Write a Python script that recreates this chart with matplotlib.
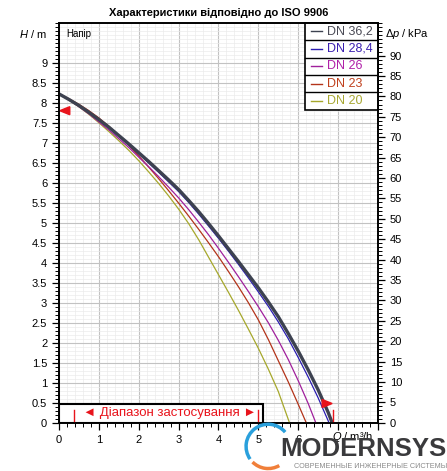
import numpy as np
import matplotlib
matplotlib.use("Agg")
import matplotlib.pyplot as plt
from matplotlib.patches import Rectangle, Polygon, Arc
from matplotlib.ticker import MultipleLocator

plt.rcParams['font.family'] = ['Liberation Sans', 'DejaVu Sans']
plt.rcParams['mathtext.fontset'] = 'custom'
plt.rcParams['mathtext.rm'] = 'Liberation Sans'
plt.rcParams['mathtext.it'] = 'Liberation Sans:italic'

# pump curves: Q in m3/h, H in m
q_step = [0, 0.25, 0.5, 0.75, 1, 1.25, 1.5, 1.75, 2, 2.25, 2.5, 2.75, 3, 3.25, 3.5, 3.75,
          4, 4.25, 4.5, 4.75, 5, 5.25, 5.5, 5.75, 6, 6.25, 6.5, 6.75]
q_36 = q_step + [6.85]
h_36 = [8.22, 8.08, 7.93, 7.76, 7.58, 7.39, 7.18, 6.97, 6.75, 6.53, 6.30, 6.07, 5.83, 5.56,
        5.28, 4.98, 4.67, 4.35, 4.03, 3.70, 3.37, 3.02, 2.65, 2.23, 1.79, 1.32, 0.82, 0.26, 0.0]
q_28 = q_step + [6.77]
h_28 = [8.22, 8.08, 7.92, 7.75, 7.56, 7.37, 7.16, 6.94, 6.72, 6.49, 6.26, 6.02, 5.78, 5.51,
        5.22, 4.92, 4.61, 4.29, 3.96, 3.62, 3.27, 2.91, 2.52, 2.10, 1.63, 1.14, 0.62, 0.05, 0.0]
q_26 = q_step[:26] + [6.44]
h_26 = [8.22, 8.07, 7.90, 7.72, 7.52, 7.32, 7.10, 6.88, 6.64, 6.40, 6.15, 5.89, 5.62, 5.33,
        5.02, 4.70, 4.36, 4.01, 3.65, 3.28, 2.90, 2.50, 2.06, 1.58, 1.05, 0.48, 0.0]
q_23 = q_step[:25] + [6.2]
h_23 = [8.22, 8.10, 7.96, 7.80, 7.62, 7.41, 7.18, 6.93, 6.67, 6.39, 6.10, 5.80, 5.49, 5.17,
        4.84, 4.50, 4.15, 3.78, 3.40, 3.00, 2.57, 2.08, 1.55, 1.02, 0.46, 0.0]
q_20 = q_step[:23] + [5.78]
h_20 = [8.22, 8.07, 7.90, 7.71, 7.50, 7.28, 7.05, 6.81, 6.55, 6.27, 5.98, 5.67, 5.34, 4.98,
        4.58, 4.14, 3.70, 3.26, 2.81, 2.34, 1.86, 1.34, 0.78, 0.0]

names = ['DN 36,2', 'DN 28,4', 'DN 26', 'DN 23', 'DN 20']
colors = ['#3d4250', '#2a1cb0', '#a0209c', '#b3341a', '#a6a82c']
text_colors = ['#4a4a55', '#3a1fb0', '#b020a8', '#c0401c', '#a8a832']
widths = [2.4, 0.9, 0.9, 0.9, 0.9]
curves = [(q_36, h_36), (q_28, h_28), (q_26, h_26), (q_23, h_23), (q_20, h_20)]

range_q = [0.37, 5.0]      # application range markers
range_box_q = 5.11
range_box_h = 0.47
h_mark = 7.8               # left red marker
q_mark = 6.87              # right red marker

fig = plt.figure(figsize=(4.47, 4.71), dpi=100)
ax = fig.add_axes([0.132, 0.1025, 0.7136, 0.8493])
ax.set_xlim(0, 8)
ax.set_ylim(0, 10)

ax.xaxis.set_major_locator(MultipleLocator(1))
ax.xaxis.set_minor_locator(MultipleLocator(0.2))
ax.yaxis.set_major_locator(MultipleLocator(0.5))
ax.yaxis.set_minor_locator(MultipleLocator(0.1))
ax.grid(which='major', color='#c2c2c2', lw=0.8)
ax.grid(which='minor', color='#ebebeb', lw=0.5)
ax.set_axisbelow(True)
ax.tick_params(which='major', direction='out', length=5, width=0.9, labelsize=8, colors='black')
ax.tick_params(which='minor', direction='out', length=3, width=0.7)
ax.set_xticks(range(9))
ax.set_xticklabels(['0', '1', '2', '3', '4', '5', '6', '', ''])
ax.set_yticks(np.arange(0, 9.01, 0.5))
ax.set_yticklabels(['0', '0.5', '1', '1.5', '2', '2.5', '3', '3.5', '4', '4.5',
                    '5', '5.5', '6', '6.5', '7', '7.5', '8', '8.5', '9'])
for s in ax.spines.values():
    s.set_linewidth(1.2)

for (q, h), c, w in zip(curves[::-1], colors[::-1], widths[::-1]):
    ax.plot(q, h, color=c, lw=w, zorder=3, solid_joinstyle='round')

# right axis in kPa
ax2 = ax.twinx()
ax2.set_ylim(0, 10 * 9.80665)
ax2.yaxis.set_minor_locator(MultipleLocator(1))
ax2.set_yticks(np.arange(0, 91, 5))
ax2.tick_params(which='major', direction='out', length=5, width=0.9, labelsize=8)
ax2.tick_params(which='minor', direction='out', length=3, width=0.7)
for s in ax2.spines.values():
    s.set_linewidth(1.2)

# axis labels
fig.text(0.105, 0.928, '$H$ / m', ha='right', va='center', fontsize=8)
fig.text(0.862, 0.928, r'$\Delta p$ / kPa', ha='left', va='center', fontsize=8)
fig.text(0.835, 0.073, '$Q$ / m³/h', ha='right', va='center', fontsize=8)
ax.text(0.022, 0.985, 'Напір', transform=ax.transAxes, ha='left', va='top', fontsize=7)
fig.text(0.49, 0.973, 'Характеристики відповідно до ISO 9906', ha='center', va='center',
         fontsize=8, fontweight='bold')

# legend drawn as stacked boxes
lx0, lx1 = 0.771, 1.0
row_h = 0.0435
ax.add_patch(Rectangle((lx0, 1 - 5 * row_h), lx1 - lx0, 5 * row_h, transform=ax.transAxes,
                       facecolor='white', edgecolor='black', lw=1.2, zorder=6, clip_on=False))
for i, (n, c, tc) in enumerate(zip(names, colors, text_colors)):
    yc = 1 - (i + 0.5) * row_h
    if i > 0:
        ax.plot([lx0, lx1], [1 - i * row_h] * 2, transform=ax.transAxes, color='black', lw=1.0, zorder=7)
    ax.plot([lx0 + 0.018, lx0 + 0.055], [yc, yc], transform=ax.transAxes, color=c, lw=1.0, zorder=7)
    ax.text(lx0 + 0.07, yc, n, transform=ax.transAxes, ha='left', va='center', fontsize=9,
            color=tc, zorder=8)

# application range box
ax.add_patch(Rectangle((0, 0), range_box_q, range_box_h, facecolor='white', edgecolor='black',
                       lw=1.5, zorder=5))
red = '#e8141c'
for rq in range_q:
    ax.plot([rq, rq], [0.02, 0.32], color=red, lw=1.0, zorder=6)
ax.text(sum(range_q) / 2 + 0.1, 0.25, '◄ Діапазон застосування ►', ha='center', va='center',
        fontsize=9.5, color=red, zorder=6)

# red markers
ax.add_patch(Polygon([[0.02, h_mark], [0.27, h_mark + 0.1], [0.27, h_mark - 0.1]], closed=True,
                     facecolor=red, edgecolor=red, zorder=6, clip_on=False))
ax.add_patch(Polygon([[q_mark - 0.02, 0.48], [q_mark - 0.27, 0.58], [q_mark - 0.27, 0.38]],
                     closed=True, facecolor=red, edgecolor=red, zorder=6))
ax.plot([q_mark, q_mark], [0.02, 0.33], color=red, lw=1.0, zorder=6)

# watermark logo
fig.text(1.0, 0.046, 'MODERNSYS', ha='right', va='center', fontsize=18.5, fontweight='bold',
         color='#3a3a3c')
fig.text(1.0, 0.01, 'СОВРЕМЕННЫЕ ИНЖЕНЕРНЫЕ СИСТЕМЫ', ha='right', va='center', fontsize=5.2,
         color='#8a8a8a')
lax = fig.add_axes([0.545, 0.0, 0.11, 0.1045])
lax.set_xlim(0, 1)
lax.set_ylim(0, 1)
lax.axis('off')
lax.add_patch(Arc((0.5, 0.5), 0.9, 0.9, theta1=40, theta2=215, color='#2aa0dc', lw=2.5))
lax.add_patch(Arc((0.5, 0.5), 0.9, 0.9, theta1=225, theta2=300, color='#f07f3a', lw=2.5))

fig.savefig('out.png', dpi=100)
